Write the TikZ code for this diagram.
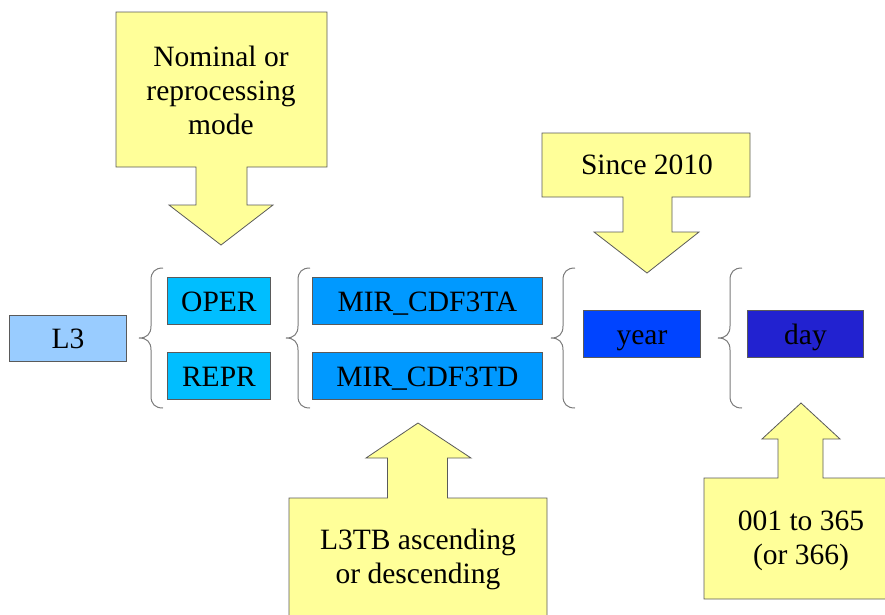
\documentclass[tikz,border=0pt]{standalone}
\usepackage{fontspec}
\setmainfont{Liberation Serif}
\definecolor{callfill}{RGB}{255,255,153}
\definecolor{edge}{RGB}{90,90,90}
\definecolor{lvlfill}{RGB}{153,204,255}
\definecolor{modefill}{RGB}{0,190,255}
\definecolor{prodfill}{RGB}{0,153,255}
\definecolor{yearfill}{RGB}{0,68,255}
\definecolor{dayfill}{RGB}{34,34,208}
\begin{document}
\begin{tikzpicture}[x=1pt,y=-1pt,
  every node/.style={font=\fontsize{29.5}{34}\selectfont, inner sep=0pt},
  field/.style={draw=edge, line width=0.9pt, anchor=north west, text height=21pt, text depth=0pt},
  callout/.style={draw=edge, line width=0.8pt, fill=callfill, line join=miter},
  bracket/.style={draw=edge!80, line width=1pt},
  note/.style={align=center}]
\useasboundingbox (0,0) rectangle (885,614);

% --- filename fields ---
\node[field, fill=lvlfill,  minimum width=117pt, minimum height=46pt] (l3)   at (9,315)   {L3};
\node[field, fill=modefill, minimum width=103pt, minimum height=47pt] (oper) at (167,277) {OPER};
\node[field, fill=modefill, minimum width=103pt, minimum height=47pt] (repr) at (167,352) {REPR};
\node[field, fill=prodfill, minimum width=230pt, minimum height=47pt] (ta)   at (312,277) {MIR\_CDF3TA};
\node[field, fill=prodfill, minimum width=230pt, minimum height=47pt] (td)   at (312,352) {MIR\_CDF3TD};
\node[field, fill=yearfill, minimum width=117pt, minimum height=47pt] (year) at (583,310) {year};
\node[field, fill=dayfill,  minimum width=116pt, minimum height=47pt] (day)  at (747,310) {day};

% --- curly brackets in front of each group of alternatives ---
\foreach \t in {139,286,551,718}{
  \draw[bracket] (\t+24,268) .. controls (\t+16,268) and (\t+12,272) .. (\t+12,280)
    -- (\t+12,326) .. controls (\t+12,334) and (\t+8,338) .. (\t,338)
    .. controls (\t+8,338) and (\t+12,342) .. (\t+12,350)
    -- (\t+12,396) .. controls (\t+12,404) and (\t+16,408) .. (\t+24,408);
}

% --- callout: processing mode ---
\draw[callout] (116,12) -- (327,12) -- (327,167) -- (247,167) -- (247,205) -- (273,205)
  -- (221,245) -- (169,205) -- (196,205) -- (196,167) -- (116,167) -- cycle;
\node[note] (mode) at (221,90) {Nominal or\\reprocessing\\mode};

% --- callout: year ---
\draw[callout] (542,133) -- (750,133) -- (750,197) -- (672,197) -- (672,232) -- (699,232)
  -- (647,273) -- (594,232) -- (623,232) -- (623,197) -- (542,197) -- cycle;
\node (since) at (647,165) {Since 2010};

% --- callout: product type ---
\draw[callout] (289,630) -- (289,498) -- (387.5,498) -- (387.5,458) -- (366,458)
  -- (418,423) -- (471,458) -- (447.5,458) -- (447.5,498) -- (547,498) -- (547,630);
\node[note] (asc) at (418,559) {L3TB ascending\\or descending};

% --- callout: day of year ---
\draw[callout] (890,599) -- (704,599) -- (704,478) -- (778,478) -- (778,439) -- (762,439)
  -- (801,403) -- (840,439) -- (823,439) -- (823,478) -- (890,478);
\node[note] (doy) at (801,541) {001 to 365\\(or 366)};
\end{tikzpicture}
\end{document}
